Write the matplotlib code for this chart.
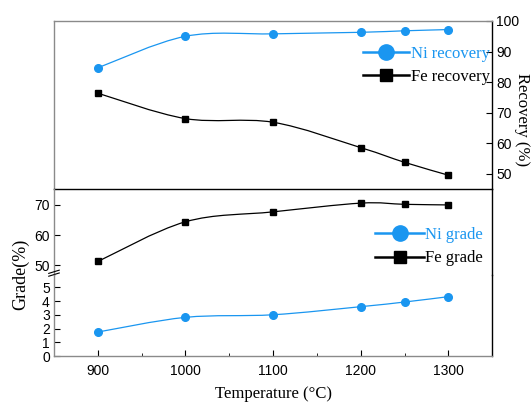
import numpy as np
import matplotlib.pyplot as plt
from matplotlib.path import Path
from matplotlib.patches import PathPatch
from matplotlib.lines import Line2D

# data
temperature = [900, 1000, 1100, 1200, 1250, 1300]
ni_recovery = [84.7, 95.0, 95.8, 96.3, 96.8, 97.2]
fe_recovery = [76.4, 68.1, 66.9, 58.6, 53.8, 49.6]
fe_grade = [51.2, 64.4, 67.7, 70.6, 70.2, 70.0]
ni_grade = [1.75, 2.82, 3.01, 3.60, 3.94, 4.33]

x_ticks = [900, 1000, 1100, 1200, 1300]
recovery_ticks = [50, 60, 70, 80, 90, 100]
grade_hi_ticks = [50, 60, 70]
grade_lo_ticks = [0, 1, 2, 3, 4, 5]

BLUE = '#1a96f0'
GREY = '#8a8a8a'
SERIF = 'Liberation Serif'
SANS = 'Liberation Sans'

plt.rcParams['font.family'] = SANS
plt.rcParams['font.size'] = 10


def smooth_path(xs, ys, ax):
    """Catmull-Rom curve through the points, drawn as bezier segments."""
    xs = np.asarray(xs, float)
    ys = np.asarray(ys, float)
    # work in display space so the curve shape does not depend on units
    pts = ax.transData.transform(np.column_stack([xs, ys]))
    verts = [pts[0]]
    codes = [Path.MOVETO]
    n = len(pts)
    for i in range(n - 1):
        p0 = pts[max(i - 1, 0)]
        p1 = pts[i]
        p2 = pts[i + 1]
        p3 = pts[min(i + 2, n - 1)]
        c1 = p1 + (p2 - p0) / 6.0
        c2 = p2 - (p3 - p1) / 6.0
        verts += [c1, c2, p2]
        codes += [Path.CURVE4] * 3
    inv = ax.transData.inverted()
    return Path(inv.transform(np.array(verts)), codes)


def draw_series(ax, xs, ys, color, marker, ms):
    ax.add_patch(PathPatch(smooth_path(xs, ys, ax), fill=False,
                           edgecolor=color, lw=0.9, zorder=2))
    ax.plot(xs, ys, ls='none', marker=marker, ms=ms, color=color,
            mec=color, zorder=3)


fig = plt.figure(figsize=(5.31, 4.03), dpi=100)
L, W = 0.1017, 0.8254
ax_top = fig.add_axes([L, 0.5303, W, 0.4176])
ax_mid = fig.add_axes([L, 0.3176, W, 0.2127])
ax_bot = fig.add_axes([L, 0.1166, W, 0.2010])

for ax in (ax_top, ax_mid, ax_bot):
    ax.set_xlim(850, 1350)
    ax.set_facecolor('none')
    for s in ax.spines.values():
        s.set_linewidth(1.0)
    ax.spines['left'].set_color(GREY)
    ax.spines['top'].set_color(GREY)
    ax.spines['bottom'].set_color(GREY)
    ax.spines['right'].set_color('black')

ax_top.set_ylim(45, 100)
ax_mid.set_ylim(46.7, 75.2)
ax_bot.set_ylim(0, 5.91)

# top panel: recovery on the right side
ax_top.spines['bottom'].set_color('black')
ax_top.set_xticks([])
ax_top.tick_params(axis='y', left=False, labelleft=False, right=True,
                   labelright=True, direction='in', length=4, pad=3,
                   labelsize=10)
ax_top.set_yticks(recovery_ticks)
fig.text(522 / 531, 1 - 120 / 403, 'Recovery (%)', family=SERIF,
         fontsize=12, rotation=-90, ha='center', va='center')

draw_series(ax_top, temperature, ni_recovery, BLUE, 'o', 5.5)
draw_series(ax_top, temperature, fe_recovery, 'black', 's', 4.5)

h_ni = Line2D([], [], color=BLUE, lw=1.8, marker='o', ms=11)
h_fe = Line2D([], [], color='black', lw=1.8, marker='s', ms=9)
leg = ax_top.legend([h_ni, h_fe], ['Ni recovery', 'Fe recovery'],
                    loc='center right', bbox_to_anchor=(0.995, 0.736),
                    frameon=False, borderpad=0, borderaxespad=0,
                    handlelength=2.8, handletextpad=0.1, labelspacing=0.45,
                    prop={'family': SERIF, 'size': 12})
leg.get_texts()[0].set_color(BLUE)

# middle panel: upper part of the broken grade axis
ax_mid.spines['top'].set_visible(False)
ax_mid.spines['bottom'].set_visible(False)
ax_mid.set_xticks([])
ax_mid.set_yticks(grade_hi_ticks)
ax_mid.tick_params(axis='y', direction='in', length=4, pad=3, labelsize=10)
draw_series(ax_mid, temperature, fe_grade, 'black', 's', 4.5)

h_ni2 = Line2D([], [], color=BLUE, lw=1.8, marker='o', ms=11)
h_fe2 = Line2D([], [], color='black', lw=1.8, marker='s', ms=9)
leg2 = ax_mid.legend([h_ni2, h_fe2], ['Ni grade', 'Fe grade'],
                     loc='center right', bbox_to_anchor=(0.979, 0.33),
                     frameon=False, borderpad=0, borderaxespad=0,
                     handlelength=2.9, handletextpad=0.1, labelspacing=0.45,
                     prop={'family': SERIF, 'size': 12})
leg2.get_texts()[0].set_color(BLUE)

# bottom panel: lower part of the broken grade axis
ax_bot.spines['top'].set_visible(False)
ax_bot.set_yticks(grade_lo_ticks)
ax_bot.set_xticks(x_ticks)
ax_bot.set_xticks([950, 1050, 1150, 1250], minor=True)
ax_bot.tick_params(axis='both', which='major', direction='in', length=4,
                   pad=6, labelsize=10)
ax_bot.tick_params(axis='y', pad=3)
ax_bot.tick_params(axis='x', which='minor', direction='in', length=2.5)
draw_series(ax_bot, temperature, ni_grade, BLUE, 'o', 5.5)
fig.text(0.515, 1 - 394 / 403, 'Temperature (\u00b0C)', family=SERIF,
         fontsize=12, ha='center', va='center')

# break marks on the left spine
for dy in (0.0, 0.035):
    ax_bot.plot([-0.012, 0.012], [0.985 + dy, 1.025 + dy], color='black',
                lw=0.8, transform=ax_bot.transAxes, clip_on=False)

fig.text(0.038, 0.32, 'Grade(%)', family=SERIF, fontsize=13, rotation=90,
         ha='center', va='center')

fig.savefig('out.png', dpi=100)
